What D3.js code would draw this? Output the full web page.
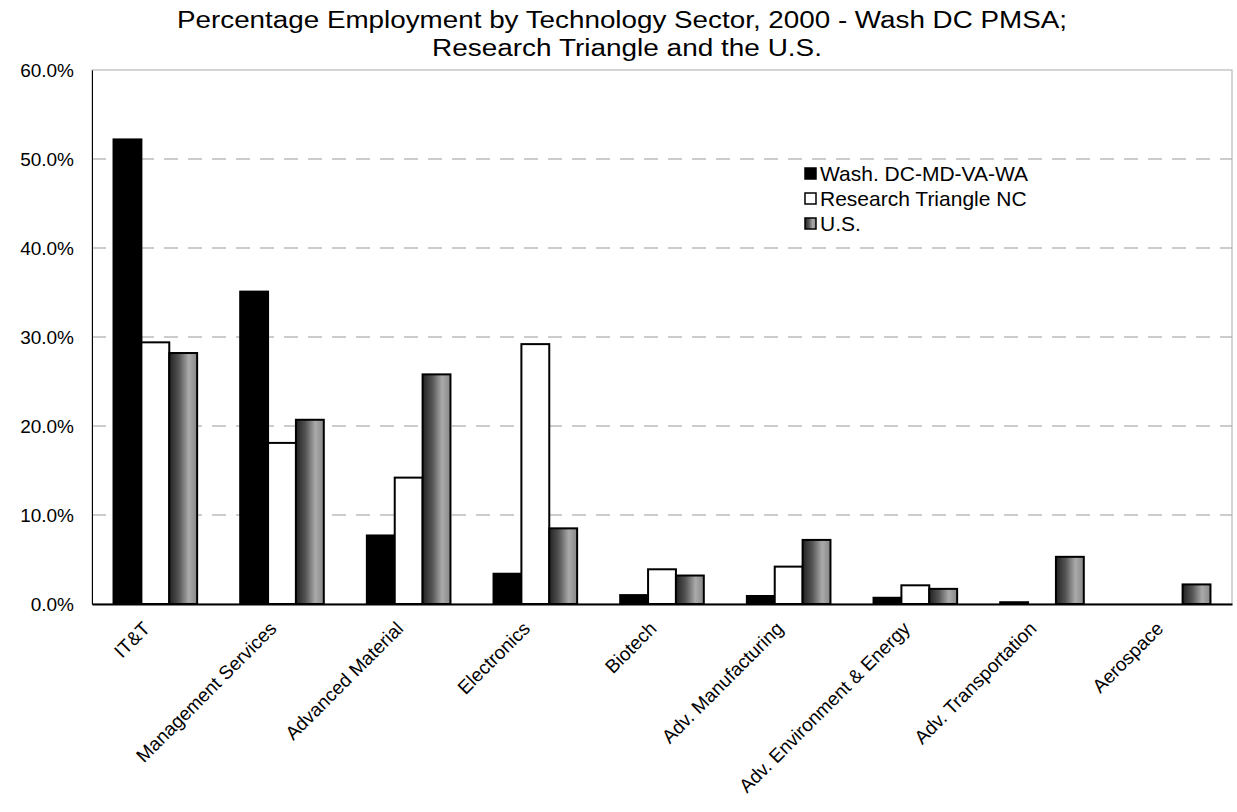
<!DOCTYPE html>
<html><head><meta charset="utf-8">
<script src="https://cdn.jsdelivr.net/npm/d3@7"></script>
<style>body{margin:0;background:#fff}svg{display:block}text{font-family:Arial,"Liberation Sans",sans-serif}</style>
</head><body>
<svg id="c" width="1237" height="812"></svg>
<script>
const categories = ["IT&T","Management Services","Advanced Material","Electronics","Biotech","Adv. Manufacturing","Adv. Environment & Energy","Adv. Transportation","Aerospace"];
const seriesNames = ["Wash. DC-MD-VA-WA","Research Triangle NC","U.S."];
const washDC = [52.2, 35.1, 7.7, 3.4, 1.0, 0.9, 0.7, 0.2, 0.0];
const researchTriangle = [29.4, 18.1, 14.2, 29.2, 3.9, 4.2, 2.1, 0.0, 0.0];
const us = [28.2, 20.7, 25.8, 8.5, 3.2, 7.2, 1.7, 5.3, 2.2];
const yTicks = [0,10,20,30,40,50,60];

const svg = d3.select("#c");
const m = {left:92, right:1232, top:70, bottom:604};
const x0 = d3.scaleBand().domain(categories).range([m.left, m.right]).paddingInner(0.34).paddingOuter(0.17);
const x1 = d3.scaleBand().domain(seriesNames).range([0, x0.bandwidth()]);
const y = d3.scaleLinear().domain([0,60]).range([m.bottom, m.top]);

const defs = svg.append("defs");
const g = defs.append("linearGradient").attr("id","gr");
g.append("stop").attr("offset","0%").attr("stop-color","#222");
g.append("stop").attr("offset","35%").attr("stop-color","#555");
g.append("stop").attr("offset","70%").attr("stop-color","#aaa");
g.append("stop").attr("offset","100%").attr("stop-color","#888");
const fills = ["#000","#fff","url(#gr)"];

// title
svg.append("text").attr("x",622).attr("y",28).attr("text-anchor","middle").attr("font-size",23)
  .attr("textLength",890).attr("lengthAdjust","spacingAndGlyphs")
  .text("Percentage Employment by Technology Sector, 2000 - Wash DC PMSA;");
svg.append("text").attr("x",627).attr("y",56).attr("text-anchor","middle").attr("font-size",23)
  .attr("textLength",390).attr("lengthAdjust","spacingAndGlyphs")
  .text("Research Triangle and the U.S.");

// gridlines
svg.append("g").selectAll("line").data(yTicks.filter(d=>d>0&&d<60)).join("line")
  .attr("x1",m.left).attr("x2",m.right).attr("y1",d=>y(d)).attr("y2",d=>y(d))
  .attr("stroke","#999").attr("stroke-width",1).attr("stroke-dasharray","14,10");
// plot border
svg.append("rect").attr("x",m.left).attr("y",m.top).attr("width",m.right-m.left).attr("height",m.bottom-m.top)
  .attr("fill","none").attr("stroke","#aaa").attr("stroke-width",1);

// y axis
const ya = svg.append("g").attr("transform",`translate(${m.left},0)`)
  .call(d3.axisLeft(y).tickValues(yTicks).tickFormat(d=>d.toFixed(1)+"%").tickSize(0).tickPadding(18));
ya.select(".domain").attr("stroke","#000");
ya.selectAll("text").attr("font-size",19).attr("fill","#000").style("font-family","Arial,'Liberation Sans',sans-serif");

// bars
const data = categories.map((c,i)=>({c, vals:[washDC[i],researchTriangle[i],us[i]]}));
const grp = svg.append("g").selectAll("g").data(data).join("g").attr("transform",d=>`translate(${x0(d.c)},0)`);
grp.selectAll("rect").data(d=>d.vals.map((v,j)=>({v,s:seriesNames[j],j}))).join("rect")
  .attr("x",d=>x1(d.s)).attr("width",x1.bandwidth())
  .attr("y",d=>y(d.v)).attr("height",d=>y(0)-y(d.v))
  .attr("fill",d=>fills[d.j]).attr("stroke","#000").attr("stroke-width",d=>d.v>0?2:0);

// x axis
const xa = svg.append("g").attr("transform",`translate(0,${m.bottom})`)
  .call(d3.axisBottom(x0).tickSize(0).tickPadding(10));
xa.select(".domain").attr("stroke","#000").attr("stroke-width",2);
xa.selectAll("text").attr("font-size",19).attr("fill","#000")
  .style("font-family","Arial,'Liberation Sans',sans-serif")
  .attr("text-anchor","end").attr("dy","0.35em")
  .attr("transform","translate(-16,14) rotate(-45)");

// legend
const lg = svg.append("g").attr("transform","translate(805,174)");
seriesNames.forEach((s,i)=>{
  const r = lg.append("g").attr("transform",`translate(0,${i*25})`);
  r.append("rect").attr("x",0).attr("y",-6).attr("width",11).attr("height",11).attr("fill",fills[i]).attr("stroke","#000").attr("stroke-width",1.5);
  r.append("text").attr("x",15).attr("y",0).attr("dy","0.35em").attr("font-size",21).text(s);
});
</script>
</body></html>
